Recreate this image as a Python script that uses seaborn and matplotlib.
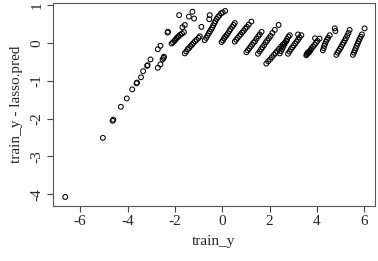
import matplotlib
matplotlib.use("Agg")
import matplotlib.pyplot as plt
import seaborn as sns
import pandas as pd

# lower arm and left cluster
arm_x = [-6.63, -5.04, -4.63, -4.60, -4.28, -4.03, -3.80, -3.62, -3.60, -3.43, -3.34, -3.17, -3.15,
         -3.03, -2.72, -2.61, -2.72, -2.61, -2.52, -2.48, -2.46, -2.31, -2.29]
arm_y = [-4.07, -2.51, -2.06, -2.03, -1.69, -1.47, -1.23, -1.07, -1.05, -0.91, -0.75, -0.61, -0.59,
         -0.44, -0.17, -0.08, -0.66, -0.57, -0.44, -0.40, -0.37, 0.27, 0.29]

# upper streaks
s1_x = [-2.14, -2.08, -2.02, -1.98, -1.93, -1.88, -1.84, -1.78, -1.70, -1.62,
        -1.82, -1.41, -1.26, -1.19, -1.58, -1.68]
s1_y = [-0.02, 0.01, 0.05, 0.08, 0.12, 0.15, 0.17, 0.21, 0.24, 0.28,
        0.73, 0.69, 0.82, 0.64, 0.47, 0.41]
s2_x = [-1.58, -1.52, -1.46, -1.40, -1.34, -1.28, -1.22, -1.15, -1.08, -1.00, -0.95, -0.88]
s2_y = [-0.28, -0.23, -0.17, -0.14, -0.09, -0.05, -0.01, 0.04, 0.08, 0.13, 0.17, 0.42]
s3_x = [-0.74, -0.68, -0.62, -0.57, -0.52, -0.47, -0.42, -0.38, -0.33, -0.29, -0.24, -0.18,
        -0.12, -0.05, 0.02, 0.12, -0.55, -0.53]
s3_y = [0.07, 0.13, 0.19, 0.25, 0.30, 0.35, 0.40, 0.46, 0.52, 0.57, 0.63, 0.68,
        0.72, 0.78, 0.80, 0.84, 0.62, 0.73]
s4_x = [-0.03, 0.03, 0.08, 0.13, 0.18, 0.24, 0.30, 0.35, 0.42, 0.48, 0.53]
s4_y = [0.02, 0.06, 0.12, 0.16, 0.20, 0.25, 0.31, 0.36, 0.42, 0.47, 0.52]
s5_x = [0.53, 0.59, 0.65, 0.72, 0.78, 0.84, 0.90, 0.97, 1.04, 1.12, 1.23]
s5_y = [0.03, 0.08, 0.13, 0.18, 0.22, 0.27, 0.31, 0.37, 0.42, 0.48, 0.56]
s6_x = [1.02, 1.08, 1.14, 1.20, 1.26, 1.32, 1.38, 1.45, 1.52, 1.58, 1.66]
s6_y = [-0.25, -0.20, -0.15, -0.10, -0.05, 0.00, 0.04, 0.11, 0.17, 0.22, 0.29]
s7_x = [1.51, 1.58, 1.64, 1.70, 1.77, 1.84, 1.90, 1.97, 2.04, 2.12, 2.22, 2.38]
s7_y = [-0.29, -0.23, -0.17, -0.12, -0.06, 0.01, 0.06, 0.12, 0.18, 0.26, 0.34, 0.47]
s8_x = [1.86, 1.94, 2.02, 2.10, 2.18, 2.25, 2.32, 2.40, 2.48, 2.56, 2.64, 2.72, 2.85]
s8_y = [-0.55, -0.49, -0.44, -0.38, -0.32, -0.27, -0.22, -0.16, -0.10, -0.05, 0.00, 0.05, 0.20]
s9_x = [2.43, 2.48, 2.53, 2.58, 2.63, 2.69, 2.74, 2.79]
s9_y = [-0.28, -0.22, -0.16, -0.10, -0.03, 0.04, 0.10, 0.16]
s10_x = [2.78, 2.84, 2.90, 2.96, 3.02, 3.08, 3.14, 3.20, 3.27, 3.34, 3.20]
s10_y = [-0.29, -0.23, -0.17, -0.12, -0.07, -0.02, 0.03, 0.08, 0.14, 0.20, 0.22]
s11_x = [3.55, 3.57, 3.60, 3.62, 3.66, 3.70, 3.74, 3.78, 3.84, 3.90, 3.96, 4.02, 4.11, 3.92]
s11_y = [-0.33, -0.30, -0.28, -0.25, -0.26, -0.22, -0.18, -0.14, -0.10, -0.05, 0.00, 0.05, 0.11, 0.12]
s12_x = [4.25, 4.28, 4.31, 4.34, 4.38, 4.42, 4.47, 4.54, 4.75, 4.78]
s12_y = [-0.20, -0.14, -0.08, -0.03, 0.03, 0.08, 0.13, 0.20, 0.38, 0.31]
s13_x = [4.82, 4.87, 4.92, 4.97, 5.02, 5.07, 5.12, 5.17, 5.22, 5.28, 5.33, 5.38]
s13_y = [-0.32, -0.26, -0.21, -0.16, -0.11, -0.05, 0.00, 0.06, 0.12, 0.19, 0.26, 0.34]
s14_x = [5.52, 5.56, 5.60, 5.64, 5.68, 5.72, 5.76, 5.80, 5.85, 5.90, 6.01]
s14_y = [-0.32, -0.26, -0.20, -0.14, -0.08, -0.02, 0.04, 0.10, 0.16, 0.22, 0.38]

xs = arm_x + s1_x + s2_x + s3_x + s4_x + s5_x + s6_x + s7_x + s8_x + s9_x + s10_x + s11_x + s12_x + s13_x + s14_x
ys = arm_y + s1_y + s2_y + s3_y + s4_y + s5_y + s6_y + s7_y + s8_y + s9_y + s10_y + s11_y + s12_y + s13_y + s14_y
df = pd.DataFrame({"train_y": xs, "resid": ys})

x_ticks = [-6, -4, -2, 0, 2, 4, 6]
y_ticks = [-4, -3, -2, -1, 0, 1]

sns.set_style("ticks")
plt.rcParams["font.family"] = ["Liberation Serif", "DejaVu Serif"]

fig = plt.figure(figsize=(3.78, 2.61), dpi=100)
ax = fig.add_axes([0.140, 0.212, 0.852, 0.7765])
sns.scatterplot(data=df, x="train_y", y="resid", ax=ax, marker="o", s=12,
                facecolors="none", edgecolor="black", linewidth=0.75, legend=False)
ax.set_xlim(-7.15, 6.45)
ax.set_ylim(-4.30, 1.05)
ax.set_xticks(x_ticks)
ax.set_yticks(y_ticks)
ax.set_xticklabels([str(t) for t in x_ticks], fontsize=11)
ax.set_yticklabels([str(t) for t in y_ticks], fontsize=11, rotation=90, va="center")
ax.tick_params(direction="out", length=4, width=0.8, color="#444444", pad=3)
for sp in ax.spines.values():
    sp.set_visible(True)
    sp.set_color("#555555")
    sp.set_linewidth(0.8)
ax.set_xlabel("train_y", fontsize=11, labelpad=5)
ax.set_ylabel("train_y - lasso.pred", fontsize=11, labelpad=5)
fig.savefig("out.png", dpi=100)
